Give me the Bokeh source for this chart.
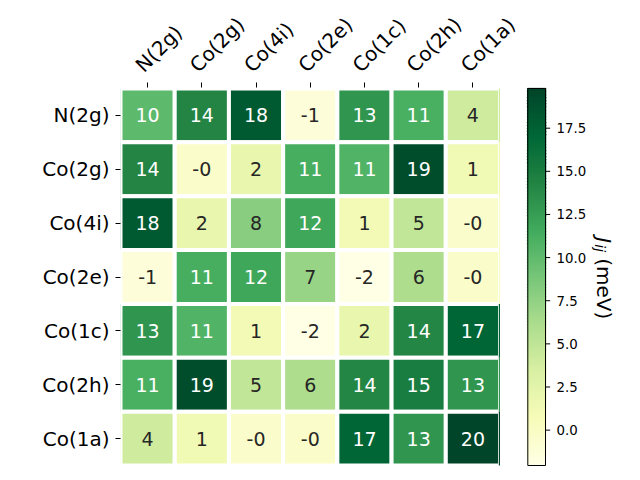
import numpy as np
from math import pi
from bokeh.plotting import figure
from bokeh.models import (Range1d, FixedTicker, LinearColorMapper, ColumnDataSource, LinearAxis)
from bokeh.core.properties import value
from bokeh.embed import file_html
from bokeh.resources import INLINE

# ---------------- data ----------------
sites = ["N(2g)", "Co(2g)", "Co(4i)", "Co(2e)", "Co(1c)", "Co(2h)", "Co(1a)"]
J_N2g  = [10.2, 14.3, 18.1, -1.2, 13.1, 11.2, 4.1]
J_Co2g = [14.3, -0.3, 2.1, 11.3, 10.8, 19.2, 1.2]
J_Co4i = [18.1, 2.1, 8.0, 11.9, 1.1, 4.9, -0.4]
J_Co2e = [-1.2, 11.3, 11.9, 7.2, -2.05, 6.1, -0.3]
J_Co1c = [13.1, 10.8, 1.1, -2.05, 2.1, 14.2, 17.2]
J_Co2h = [11.2, 19.2, 4.9, 6.1, 14.2, 15.1, 13.1]
J_Co1a = [4.1, 1.2, -0.4, -0.3, 17.2, 13.1, 19.8]
cbar_ticks = [0.0, 2.5, 5.0, 7.5, 10.0, 12.5, 15.0, 17.5]
ylgn_nodes = ["#ffffe5", "#f7fcb9", "#d9f0a3", "#addd8e", "#78c679",
              "#41ab5d", "#238443", "#006837", "#004529"]

J = np.array([J_N2g, J_Co2g, J_Co4i, J_Co2e, J_Co1c, J_Co2h, J_Co1a])
n = len(sites)
vmin, vmax = float(J.min()), float(J.max())

# 256-colour YlGn (matplotlib style, light -> dark)
def hex2rgb(h):
    return [int(h[i:i + 2], 16) / 255.0 for i in (1, 3, 5)]

nodes = np.array([hex2rgb(h) for h in ylgn_nodes])
t = np.linspace(0, 1, 256)
pal_rgb = np.stack([np.interp(t, np.linspace(0, 1, len(nodes)), nodes[:, k]) for k in range(3)], axis=1)
palette = ['#%02x%02x%02x' % tuple(int(round(c * 255)) for c in row) for row in pal_rgb]

def lum(rgb):
    rgb = np.asarray(rgb)
    rgb = np.where(rgb <= 0.03928, rgb / 12.92, ((rgb + 0.055) / 1.055) ** 2.4)
    return float(rgb.dot([0.2126, 0.7152, 0.0722]))

xx, yy, vv, lab, tc = [], [], [], [], []
for i in range(n):
    for j in range(n):
        v = float(J[i, j])
        idx = min(int((v - vmin) / (vmax - vmin) * 256), 255)
        xx.append(j); yy.append(i); vv.append(v)
        lab.append("{:.0f}".format(v))
        tc.append("#262626" if lum(pal_rgb[idx]) > 0.408 else "white")
src = ColumnDataSource(dict(x=xx, y=yy, v=vv, lab=lab, tc=tc))
mapper = LinearColorMapper(palette=palette, low=vmin, high=vmax)

# ---------------- layout (pixels) ----------------
W, H = 632, 472
FL, FT, FR, FB = 120, 84, 632, 466          # plot frame
HL, HR, HT, HB = 120, 499.5, 85, 465        # heat-map cell area
ux = (HR - HL) / n
uy = (HB - HT) / n
pv = (HB - HT) / (vmax - vmin)

def X(px):                                  # pixel -> heat-map x units
    return -0.5 + (px - HL) / ux

def Y(py):                                  # pixel -> heat-map y units
    return -0.5 + (py - HT) / uy

x_start, x_end = X(FL), X(FR)
y_bot, y_top = n - 0.5 + (FB - HB) / uy, -0.5 - (HT - FT) / uy
lab_shift = 8.5 / ux                        # top labels sit left of their ticks

p = figure(width=W, height=H, output_backend="svg", toolbar_location=None,
           x_range=Range1d(x_start, x_end), y_range=Range1d(y_bot, y_top),
           x_axis_location="above", y_axis_location="left",
           min_border_left=FL, min_border_right=W - FR, min_border_top=FT,
           min_border_bottom=H - FB)
p.extra_y_ranges = {"cb": Range1d(vmin - (FB - HB) / pv, vmax + (HT - FT) / pv)}
p.extra_x_ranges = {"lab": Range1d(x_start + lab_shift, x_end + lab_shift)}
p.xgrid.visible = False
p.ygrid.visible = False
p.outline_line_color = None

# ---- heat-map cells ----
p.rect(x="x", y="y", width=1, height=1, source=src,
       fill_color={"field": "v", "transform": mapper},
       line_color="white", line_width=4)
last = ColumnDataSource(dict(top=[i - 0.5 for i in range(n)],
                             bottom=[i + 0.5 for i in range(n)],
                             v=[float(J[i, n - 1]) for i in range(n)]))
p.quad(left=n - 0.5 - 1.2 / ux, right=n - 0.5, top="top", bottom="bottom", source=last,
       fill_color={"field": "v", "transform": mapper}, line_color=None)
p.text(x="x", y="y", text="lab", source=src, text_color="tc",
       text_align="center", text_baseline="middle",
       text_font=value("DejaVu Sans"), text_font_size="19px")

# ---- axes ----
def style_axis(ax):
    ax.ticker = FixedTicker(ticks=list(range(n)))
    ax.major_label_overrides = {i: s for i, s in enumerate(sites)}
    ax.axis_line_color = None
    ax.major_tick_line_color = "black"
    ax.major_tick_out = 5
    ax.major_tick_in = 0
    ax.minor_tick_line_color = None
    ax.major_label_text_font = "DejaVu Sans"
    ax.major_label_text_font_size = "20px"
    ax.major_label_text_color = "black"

style_axis(p.yaxis[0])
p.yaxis[0].major_label_standoff = 6

top_ticks = p.xaxis[0]                      # tick marks only
style_axis(top_ticks)
top_ticks.major_label_overrides = {i: "" for i in range(n)}
top_ticks.major_label_text_font_size = "0px"
top_ticks.major_label_standoff = 0

top_labels = LinearAxis(x_range_name="lab")  # rotated labels
style_axis(top_labels)
top_labels.major_tick_out = 0
top_labels.major_tick_line_color = None
top_labels.major_label_orientation = pi / 4
top_labels.major_label_standoff = 14
p.add_layout(top_labels, "above")

# ---- colour bar (drawn on its own value scale) ----
cb_l, cb_r = X(527.3), X(545.0)
edges = np.linspace(vmin, vmax, len(palette) + 1)
p.quad(left=cb_l, right=cb_r, bottom=edges[:-1], top=edges[1:],
       fill_color=palette, line_color=palette, line_width=1.5, y_range_name="cb")
p.quad(left=cb_l, right=cb_r, bottom=vmin, top=vmax, fill_color=None,
       line_color="black", line_width=1, y_range_name="cb")
p.segment(x0=cb_r, x1=X(549.7), y0=cbar_ticks, y1=cbar_ticks,
          line_color="black", line_width=1, y_range_name="cb")
p.text(x=X(556.0), y=cbar_ticks, text=["%.1f" % v for v in cbar_ticks],
       text_align="left", text_baseline="middle", text_color="black",
       text_font=value("DejaVu Sans"), text_font_size="13.33px", y_range_name="cb")

# colour-bar label  J_ij (meV), reading top to bottom
for txt, x0, y0, size, style in [("J", 603, 235, "20px", "italic"),
                                 ("ij", 599, 242, "14px", "italic"),
                                 ("(meV)", 603, 256, "20px", "normal")]:
    p.text(x=[X(x0)], y=[Y(y0)], text=[txt], angle=-pi / 2,
           text_align="left", text_baseline="alphabetic", text_color="black",
           text_font=value("DejaVu Sans"), text_font_size=size, text_font_style=style)

open("out.html", "w").write(file_html(p, INLINE))
